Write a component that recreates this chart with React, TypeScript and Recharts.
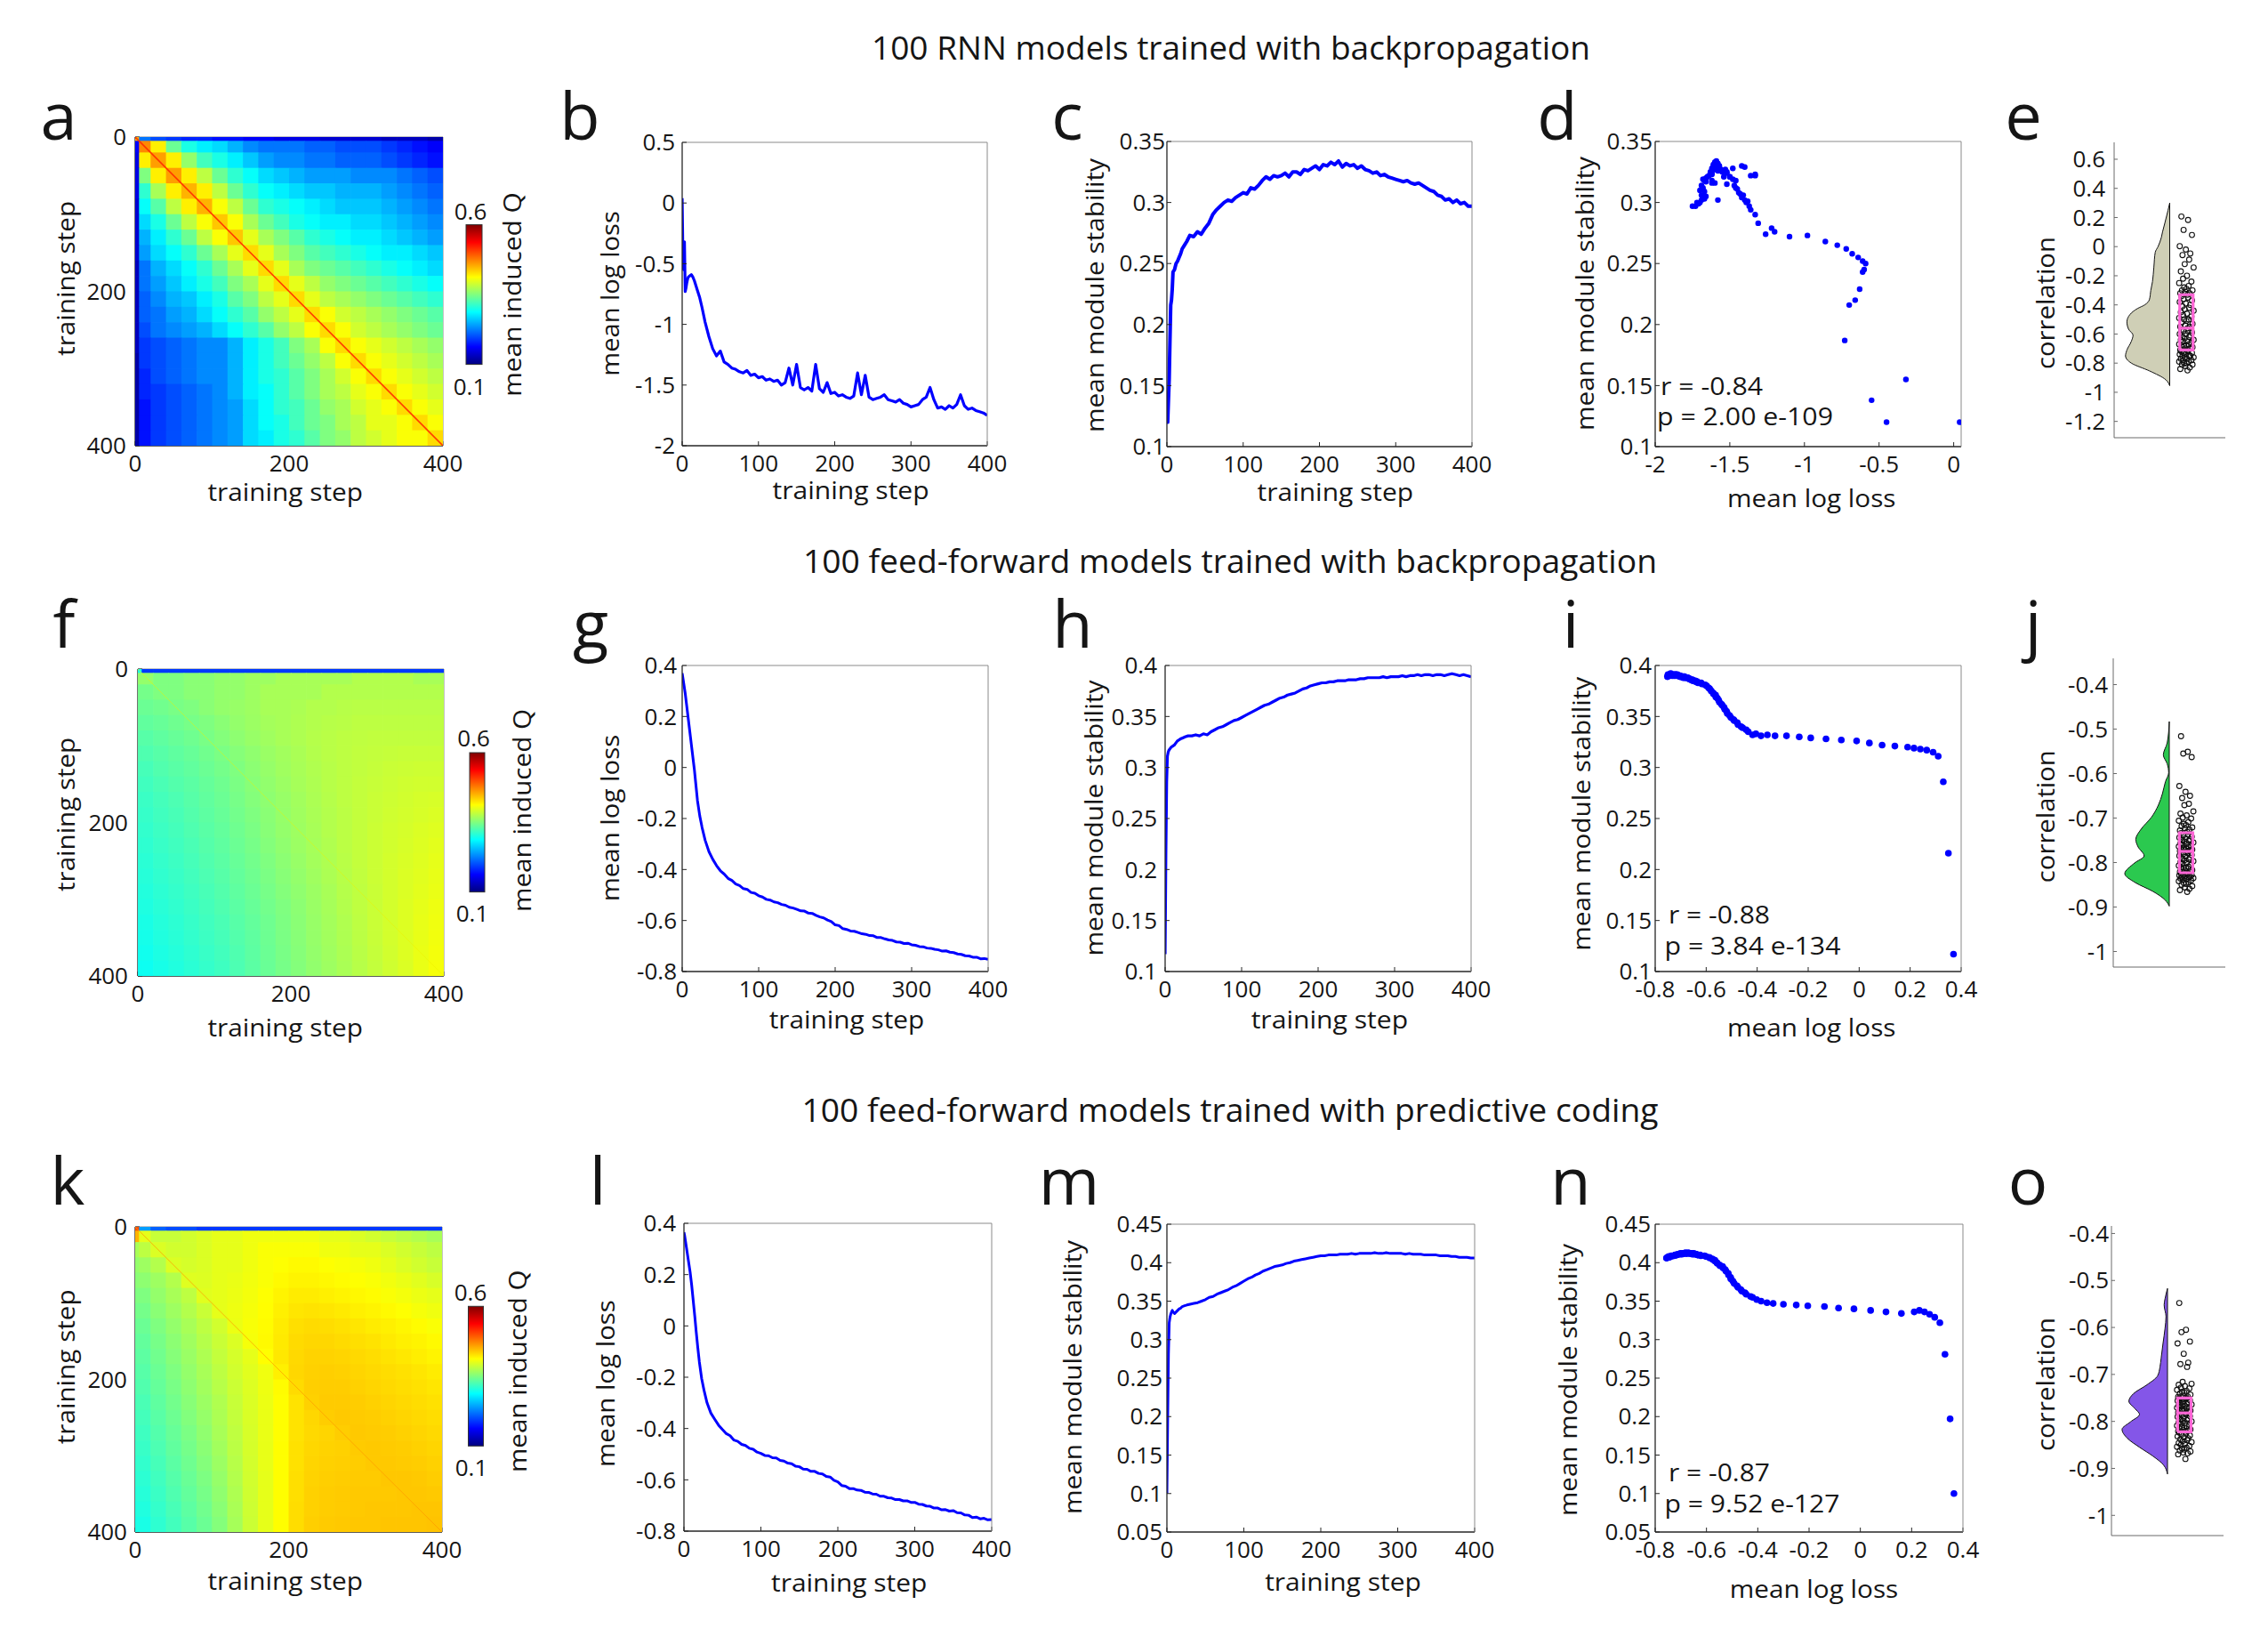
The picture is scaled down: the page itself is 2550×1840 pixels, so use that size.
import React from "react";
import { ComposedChart, Line, Scatter, Area, XAxis, YAxis, ReferenceLine } from "recharts";

const FONT = "'Open Sans', 'Noto Sans', 'DejaVu Sans', sans-serif";
const INK = "#151515";
const AXIS = "#262626";
const BOXLINE = "#8a8a8a";
const BLUE = "#0000ff";
const PINK = "#ff66d6";

// ---------- training curves (read at these steps) ----------
const steps = [0, 1, 2, 3, 4, 5, 6, 7, 8, 10, 12, 14, 16, 18, 20, 23, 26, 30,
  35, 40, 45, 50, 55, 60, 65, 70, 75, 80, 85, 90, 95, 100,
  105, 110, 115, 120, 125, 130, 135, 140, 145, 150, 155, 160, 165, 170, 175, 180, 185, 190, 195, 200,
  205, 210, 215, 220, 225, 230, 235, 240, 245, 250, 255, 260, 265, 270, 275, 280, 285, 290, 295, 300,
  305, 310, 315, 320, 325, 330, 335, 340, 345, 350, 355, 360, 365, 370, 375, 380, 385, 390, 395, 400];

const rnnLoss = [0.04, -0.45, -0.55, -0.32, -0.73, -0.70, -0.66, -0.63, -0.61, -0.60, -0.59, -0.61, -0.64, -0.68, -0.72, -0.78, -0.86, -0.98,
  -1.10, -1.20, -1.26, -1.22, -1.31, -1.33, -1.36, -1.37, -1.39, -1.40, -1.38, -1.42, -1.41, -1.44,
  -1.43, -1.46, -1.45, -1.47, -1.46, -1.50, -1.48, -1.36, -1.50, -1.33, -1.52, -1.54, -1.52, -1.55, -1.33, -1.53, -1.56, -1.48, -1.57, -1.56,
  -1.59, -1.58, -1.60, -1.61, -1.59, -1.40, -1.58, -1.42, -1.60, -1.62, -1.61, -1.60, -1.58, -1.62, -1.63, -1.64, -1.62, -1.65, -1.66, -1.68,
  -1.67, -1.66, -1.62, -1.60, -1.52, -1.62, -1.69, -1.68, -1.70, -1.67, -1.69, -1.66, -1.58, -1.67, -1.70, -1.69, -1.71, -1.72, -1.73, -1.75];

const rnnStability = [0.12, 0.12, 0.138, 0.155, 0.187, 0.216, 0.22, 0.229, 0.243, 0.245, 0.25, 0.252, 0.255, 0.258, 0.262, 0.265, 0.268, 0.273,
  0.272, 0.276, 0.274, 0.279, 0.283, 0.29, 0.294, 0.297, 0.30, 0.302, 0.301, 0.304, 0.306, 0.308,
  0.307, 0.312, 0.311, 0.314, 0.318, 0.321, 0.319, 0.322, 0.321, 0.322, 0.324, 0.321, 0.325, 0.325, 0.323, 0.327, 0.326, 0.328, 0.33, 0.327,
  0.331, 0.33, 0.333, 0.331, 0.334, 0.329, 0.332, 0.33, 0.331, 0.328, 0.33, 0.327, 0.326, 0.324, 0.325, 0.322, 0.323, 0.321, 0.32, 0.319,
  0.318, 0.317, 0.318, 0.316, 0.315, 0.316, 0.314, 0.312, 0.31, 0.309, 0.306, 0.305, 0.302, 0.303, 0.30, 0.302, 0.299, 0.30, 0.297, 0.297];

const ffLoss = [0.37, 0.35, 0.33, 0.31, 0.29, 0.265, 0.24, 0.215, 0.19, 0.14, 0.09, 0.04, -0.01, -0.07, -0.13, -0.19, -0.235, -0.285,
  -0.33, -0.36, -0.385, -0.405, -0.418, -0.435, -0.443, -0.457, -0.463, -0.475, -0.478, -0.49, -0.493, -0.503,
  -0.508, -0.517, -0.52, -0.527, -0.53, -0.537, -0.54, -0.548, -0.551, -0.556, -0.562, -0.563, -0.571, -0.572, -0.58, -0.586, -0.59, -0.598, -0.604, -0.617,
  -0.62, -0.632, -0.635, -0.641, -0.642, -0.647, -0.652, -0.654, -0.659, -0.66, -0.667, -0.667, -0.672, -0.676, -0.678, -0.684, -0.685, -0.69, -0.689, -0.695,
  -0.697, -0.702, -0.703, -0.708, -0.709, -0.713, -0.715, -0.72, -0.719, -0.724, -0.726, -0.731, -0.733, -0.738, -0.739, -0.744, -0.744, -0.75, -0.749, -0.752];

const ffStability = [0.117, 0.216, 0.286, 0.311, 0.315, 0.317, 0.318, 0.319, 0.32, 0.321, 0.322, 0.324, 0.326, 0.327, 0.328, 0.329, 0.33, 0.331,
  0.331, 0.332, 0.331, 0.333, 0.332, 0.335, 0.337, 0.339, 0.34, 0.342, 0.344, 0.346, 0.347, 0.349,
  0.351, 0.353, 0.355, 0.357, 0.359, 0.361, 0.362, 0.364, 0.366, 0.368, 0.369, 0.371, 0.372, 0.373, 0.375, 0.377, 0.378, 0.38, 0.381, 0.382,
  0.383, 0.383, 0.384, 0.384, 0.385, 0.385, 0.385, 0.386, 0.386, 0.386, 0.387, 0.387, 0.388, 0.388, 0.388, 0.388, 0.389, 0.388, 0.389, 0.389,
  0.389, 0.39, 0.389, 0.39, 0.39, 0.391, 0.39, 0.391, 0.391, 0.39, 0.391, 0.391, 0.39, 0.391, 0.392, 0.391, 0.39, 0.391, 0.39, 0.389];

const pcLoss = [0.365, 0.35, 0.33, 0.31, 0.29, 0.27, 0.25, 0.23, 0.21, 0.16, 0.10, 0.04, -0.025, -0.085, -0.14, -0.205, -0.25, -0.30,
  -0.34, -0.364, -0.387, -0.404, -0.42, -0.428, -0.445, -0.45, -0.462, -0.466, -0.477, -0.481, -0.492, -0.497,
  -0.505, -0.506, -0.514, -0.515, -0.524, -0.527, -0.535, -0.537, -0.547, -0.549, -0.558, -0.559, -0.567, -0.567, -0.575, -0.577, -0.587, -0.589, -0.602, -0.608,
  -0.622, -0.625, -0.634, -0.634, -0.64, -0.641, -0.648, -0.649, -0.655, -0.656, -0.664, -0.664, -0.67, -0.671, -0.677, -0.677, -0.682, -0.682, -0.688, -0.688,
  -0.695, -0.696, -0.702, -0.703, -0.71, -0.71, -0.717, -0.716, -0.722, -0.72, -0.728, -0.729, -0.737, -0.738, -0.747, -0.745, -0.752, -0.75, -0.756, -0.755];

const pcStability = [0.10, 0.197, 0.281, 0.322, 0.329, 0.333, 0.336, 0.338, 0.336, 0.334, 0.336, 0.338, 0.34, 0.341, 0.343, 0.344, 0.345, 0.346,
  0.347, 0.348, 0.35, 0.352, 0.355, 0.356, 0.359, 0.361, 0.363, 0.365, 0.368, 0.37, 0.373, 0.376,
  0.379, 0.381, 0.384, 0.386, 0.389, 0.391, 0.393, 0.395, 0.396, 0.397, 0.399, 0.40, 0.402, 0.403, 0.404, 0.405, 0.406, 0.407, 0.408, 0.409,
  0.409, 0.41, 0.41, 0.41, 0.411, 0.411, 0.411, 0.412, 0.411, 0.412, 0.412, 0.412, 0.412, 0.413, 0.412, 0.412, 0.413, 0.412, 0.412, 0.412,
  0.412, 0.411, 0.412, 0.411, 0.411, 0.411, 0.41, 0.41, 0.41, 0.41, 0.409, 0.409, 0.409, 0.408, 0.408, 0.407, 0.407, 0.407, 0.406, 0.406];

// ---------- induced Q maps (rows / cols = training step bins) ----------
const cellEdges = [0, 5, 20, 40, 60, 80, 100, 120, 140, 160, 180, 200, 220, 240, 260, 280, 300, 320, 340, 360, 380, 400];

const rnnQ = [
  [.45, .22, .20, .19, .18, .18, .17, .17, .16, .16, .15, .15, .15, .14, .14, .14, .14, .13, .13, .13, .12],
  [.16, .47, .42, .34, .30, .28, .27, .25, .23, .22, .22, .22, .21, .21, .20, .20, .20, .19, .18, .17, .16],
  [.15, .42, .46, .42, .36, .32, .30, .28, .26, .24, .23, .23, .22, .22, .21, .21, .21, .20, .19, .18, .17],
  [.15, .35, .42, .46, .42, .38, .34, .31, .29, .27, .26, .25, .24, .24, .24, .23, .23, .23, .22, .21, .20],
  [.15, .31, .37, .42, .45, .42, .38, .34, .31, .29, .28, .27, .26, .26, .25, .25, .25, .24, .23, .22, .21],
  [.14, .29, .33, .38, .42, .45, .41, .38, .34, .31, .30, .29, .28, .27, .26, .26, .26, .25, .24, .23, .22],
  [.14, .27, .30, .34, .38, .41, .44, .41, .37, .34, .32, .30, .29, .28, .28, .27, .27, .26, .25, .24, .23],
  [.14, .25, .28, .31, .34, .38, .41, .44, .40, .37, .35, .33, .31, .30, .29, .28, .28, .27, .26, .25, .24],
  [.14, .24, .27, .29, .31, .34, .37, .40, .43, .40, .37, .35, .33, .32, .31, .30, .29, .28, .28, .27, .26],
  [.13, .22, .25, .27, .29, .31, .34, .37, .40, .43, .40, .37, .35, .34, .33, .32, .31, .30, .29, .28, .27],
  [.13, .22, .24, .26, .28, .30, .32, .35, .37, .40, .43, .40, .38, .36, .35, .34, .33, .32, .31, .30, .29],
  [.13, .21, .23, .25, .26, .28, .30, .33, .35, .38, .40, .43, .40, .38, .37, .36, .35, .34, .33, .32, .31],
  [.13, .21, .22, .24, .25, .27, .29, .31, .33, .36, .38, .40, .43, .41, .39, .38, .37, .36, .35, .34, .33],
  [.13, .20, .22, .23, .24, .25, .27, .29, .31, .33, .36, .38, .41, .43, .41, .39, .38, .37, .36, .35, .34],
  [.13, .19, .20, .21, .22, .23, .23, .25, .28, .30, .32, .35, .37, .41, .43, .41, .40, .39, .38, .37, .36],
  [.12, .19, .20, .21, .22, .23, .23, .25, .28, .30, .32, .34, .36, .38, .41, .43, .41, .40, .39, .38, .37],
  [.12, .18, .20, .21, .22, .23, .23, .25, .28, .30, .31, .33, .35, .37, .39, .41, .43, .41, .40, .39, .38],
  [.12, .18, .19, .20, .21, .22, .23, .25, .28, .29, .31, .33, .35, .37, .38, .40, .41, .43, .41, .40, .39],
  [.12, .17, .19, .20, .21, .22, .23, .24, .27, .29, .31, .32, .34, .36, .37, .39, .40, .41, .43, .41, .40],
  [.12, .17, .19, .20, .21, .22, .23, .24, .27, .29, .30, .32, .34, .35, .37, .38, .40, .40, .41, .43, .41],
  [.12, .17, .19, .20, .21, .22, .23, .24, .27, .28, .30, .31, .33, .35, .36, .38, .39, .40, .41, .41, .43],
];

const ffQ = [
  [.30, .19, .19, .19, .19, .19, .19, .19, .19, .19, .19, .19, .19, .19, .19, .19, .19, .19, .19, .19, .19],
  [.36, .36, .35, .35, .355, .355, .36, .36, .365, .365, .37, .37, .37, .37, .37, .375, .375, .375, .375, .37, .37],
  [.345, .345, .35, .35, .355, .355, .36, .36, .365, .37, .37, .37, .37, .375, .375, .375, .375, .375, .375, .375, .375],
  [.34, .34, .343, .347, .35, .355, .36, .362, .365, .37, .37, .372, .375, .375, .377, .378, .378, .378, .378, .378, .378],
  [.335, .335, .338, .342, .346, .35, .355, .36, .364, .368, .37, .373, .375, .377, .378, .38, .38, .38, .38, .38, .38],
  [.33, .33, .334, .338, .342, .347, .352, .357, .362, .366, .37, .373, .376, .378, .38, .381, .382, .382, .382, .382, .382],
  [.326, .326, .33, .334, .338, .343, .348, .353, .358, .363, .367, .371, .375, .378, .38, .382, .383, .384, .385, .385, .385],
  [.322, .322, .327, .331, .335, .34, .345, .35, .356, .361, .366, .37, .374, .377, .38, .382, .384, .386, .387, .388, .388],
  [.319, .319, .324, .328, .332, .337, .342, .348, .354, .359, .364, .369, .373, .377, .38, .383, .385, .387, .389, .39, .39],
  [.316, .316, .321, .325, .33, .335, .34, .346, .352, .357, .362, .367, .372, .376, .38, .383, .386, .388, .39, .392, .393],
  [.314, .314, .319, .323, .328, .333, .338, .344, .35, .355, .361, .366, .371, .375, .379, .383, .386, .389, .391, .393, .395],
  [.312, .312, .317, .321, .326, .331, .336, .342, .348, .354, .36, .365, .37, .375, .379, .383, .387, .39, .392, .395, .397],
  [.31, .31, .315, .319, .324, .329, .334, .34, .346, .352, .358, .364, .369, .374, .379, .383, .387, .39, .393, .396, .399],
  [.308, .308, .313, .317, .322, .327, .332, .338, .344, .35, .356, .362, .368, .373, .378, .383, .387, .391, .394, .397, .40],
  [.306, .306, .311, .315, .32, .325, .33, .336, .342, .348, .354, .36, .366, .372, .377, .382, .387, .391, .395, .398, .401],
  [.304, .304, .309, .313, .318, .323, .328, .334, .34, .346, .352, .358, .364, .37, .376, .381, .386, .391, .395, .399, .402],
  [.302, .302, .307, .311, .316, .321, .326, .332, .338, .344, .35, .356, .363, .369, .375, .381, .386, .391, .396, .40, .404],
  [.30, .30, .305, .309, .314, .319, .324, .33, .336, .342, .349, .355, .362, .368, .374, .38, .386, .391, .396, .401, .405],
  [.298, .298, .303, .307, .312, .317, .322, .328, .334, .341, .348, .354, .361, .367, .373, .379, .385, .391, .396, .401, .406],
  [.296, .296, .301, .305, .31, .315, .32, .326, .333, .34, .347, .353, .36, .366, .372, .378, .384, .39, .396, .402, .407],
  [.294, .294, .299, .303, .308, .313, .318, .325, .332, .339, .346, .352, .359, .365, .371, .377, .383, .389, .395, .402, .408],
];

const pcQ = [
  [.50, .24, .21, .20, .20, .19, .19, .19, .19, .19, .19, .19, .19, .19, .19, .19, .19, .19, .19, .19, .19],
  [.45, .40, .385, .385, .39, .395, .40, .40, .405, .405, .405, .405, .405, .40, .40, .395, .39, .385, .38, .375, .37],
  [.37, .38, .395, .39, .39, .395, .40, .40, .405, .41, .41, .41, .41, .405, .405, .40, .40, .395, .39, .385, .38],
  [.36, .365, .375, .395, .392, .395, .40, .40, .405, .41, .412, .415, .415, .412, .41, .408, .405, .40, .395, .39, .385],
  [.355, .357, .365, .375, .397, .396, .40, .402, .406, .41, .415, .418, .418, .416, .414, .412, .41, .406, .402, .398, .393],
  [.35, .35, .36, .37, .38, .398, .40, .403, .407, .412, .418, .422, .422, .42, .418, .416, .414, .41, .407, .403, .40],
  [.345, .345, .355, .365, .375, .386, .40, .404, .408, .413, .42, .425, .426, .425, .423, .42, .418, .415, .412, .408, .405],
  [.34, .34, .35, .36, .37, .38, .39, .403, .409, .414, .422, .428, .43, .429, .427, .425, .422, .42, .417, .414, .41],
  [.336, .336, .346, .356, .366, .376, .386, .395, .408, .415, .423, .43, .432, .432, .43, .428, .426, .423, .42, .418, .415],
  [.333, .333, .343, .353, .363, .373, .383, .392, .40, .413, .424, .431, .434, .434, .433, .431, .429, .426, .424, .421, .418],
  [.33, .33, .34, .35, .36, .37, .38, .39, .398, .405, .42, .432, .435, .436, .435, .433, .431, .429, .427, .425, .422],
  [.327, .327, .337, .347, .357, .367, .377, .387, .396, .404, .414, .43, .436, .437, .437, .435, .433, .431, .429, .427, .425],
  [.324, .324, .334, .344, .354, .364, .374, .385, .395, .403, .413, .426, .435, .438, .438, .437, .435, .433, .431, .429, .427],
  [.321, .321, .331, .341, .351, .361, .372, .383, .394, .402, .413, .426, .432, .437, .439, .438, .437, .435, .433, .431, .429],
  [.318, .318, .328, .338, .348, .358, .37, .381, .393, .402, .413, .426, .431, .433, .437, .439, .438, .437, .435, .433, .431],
  [.315, .315, .325, .335, .345, .355, .367, .379, .392, .401, .413, .427, .432, .434, .435, .438, .439, .438, .437, .435, .433],
  [.312, .312, .322, .332, .342, .352, .364, .377, .391, .401, .413, .427, .433, .435, .436, .437, .439, .439, .438, .437, .435],
  [.309, .309, .319, .329, .339, .349, .361, .375, .39, .40, .413, .428, .434, .436, .437, .438, .438, .44, .44, .439, .437],
  [.306, .306, .316, .326, .336, .346, .358, .373, .389, .40, .413, .428, .435, .437, .438, .439, .439, .439, .44, .44, .439],
  [.303, .303, .313, .323, .333, .343, .355, .371, .388, .40, .413, .429, .435, .437, .438, .439, .44, .44, .44, .441, .441],
  [.30, .30, .31, .32, .33, .34, .352, .369, .387, .40, .413, .429, .436, .438, .439, .44, .44, .441, .441, .441, .442],
];

// ---------- per-model correlations (100 models each) ----------
const rnnCorr = [0.207, 0.183, 0.115, 0.08, 0.003, -0.02, -0.047, -0.058, -0.089, -0.12, -0.143, -0.17, -0.2, -0.22, -0.24, -0.25, -0.27, -0.28, -0.29, -0.30, -0.30, -0.31, -0.32, -0.32, -0.33,
  -0.34, -0.35, -0.36, -0.37, -0.38, -0.39, -0.40, -0.41, -0.42, -0.43, -0.44, -0.45, -0.46, -0.47, -0.48, -0.49, -0.50, -0.50, -0.51, -0.52, -0.53, -0.54, -0.55, -0.55, -0.56,
  -0.57, -0.58, -0.58, -0.59, -0.60, -0.60, -0.61, -0.62, -0.62, -0.63, -0.64, -0.64, -0.65, -0.65, -0.66, -0.67, -0.67, -0.68, -0.68, -0.69, -0.69, -0.70, -0.70, -0.71, -0.71,
  -0.72, -0.72, -0.73, -0.73, -0.74, -0.74, -0.75, -0.75, -0.75, -0.76, -0.76, -0.77, -0.77, -0.78, -0.78, -0.79, -0.79, -0.80, -0.80, -0.81, -0.81, -0.82, -0.83, -0.84, -0.85];

const ffCorr = [-0.516, -0.551, -0.555, -0.563, -0.628, -0.641, -0.65, -0.655, -0.668, -0.671, -0.685, -0.69, -0.694, -0.699, -0.701, -0.706, -0.709, -0.713, -0.716, -0.718, -0.721, -0.723, -0.726, -0.728, -0.731,
  -0.734, -0.737, -0.739, -0.742, -0.744, -0.746, -0.748, -0.749, -0.751, -0.753, -0.755, -0.757, -0.758, -0.76, -0.762, -0.764, -0.765, -0.767, -0.768, -0.77, -0.771, -0.772, -0.773, -0.774, -0.775,
  -0.777, -0.779, -0.781, -0.783, -0.785, -0.787, -0.789, -0.791, -0.793, -0.795, -0.797, -0.799, -0.801, -0.803, -0.805, -0.807, -0.809, -0.811, -0.813, -0.815, -0.817, -0.818, -0.82, -0.821, -0.823,
  -0.825, -0.826, -0.827, -0.828, -0.829, -0.83, -0.831, -0.832, -0.833, -0.834, -0.835, -0.836, -0.837, -0.838, -0.84, -0.842, -0.844, -0.846, -0.848, -0.85, -0.853, -0.856, -0.859, -0.862, -0.866];

const pcCorr = [-0.548, -0.605, -0.61, -0.63, -0.634, -0.656, -0.675, -0.678, -0.684, -0.716, -0.72, -0.722, -0.725, -0.728, -0.73, -0.733, -0.735, -0.737, -0.739, -0.741, -0.743, -0.745, -0.747, -0.748, -0.75,
  -0.751, -0.752, -0.754, -0.755, -0.756, -0.758, -0.759, -0.76, -0.762, -0.763, -0.764, -0.766, -0.767, -0.768, -0.77, -0.771, -0.772, -0.774, -0.775, -0.776, -0.777, -0.778, -0.779, -0.781, -0.782,
  -0.784, -0.785, -0.787, -0.789, -0.79, -0.792, -0.794, -0.795, -0.797, -0.799, -0.80, -0.802, -0.804, -0.805, -0.807, -0.809, -0.81, -0.812, -0.814, -0.815, -0.817, -0.818, -0.82, -0.821, -0.822,
  -0.824, -0.826, -0.828, -0.83, -0.832, -0.834, -0.836, -0.838, -0.84, -0.842, -0.844, -0.846, -0.848, -0.85, -0.852, -0.854, -0.856, -0.858, -0.86, -0.862, -0.864, -0.866, -0.868, -0.87, -0.88];

// half-violin outlines: correlation level and density width
const rnnViolinAt = [0.30, 0.25, 0.166, 0.10, 0.064, 0.0, -0.038, -0.14, -0.24, -0.30, -0.364, -0.40, -0.425, -0.466, -0.517, -0.567, -0.608, -0.65, -0.71, -0.75, -0.80, -0.853, -0.914, -0.955];
const rnnViolinWidth = [0, 0.03, 0.085, 0.13, 0.15, 0.21, 0.26, 0.285, 0.31, 0.34, 0.366, 0.45, 0.58, 0.715, 0.77, 0.74, 0.66, 0.69, 0.77, 0.795, 0.69, 0.366, 0.07, 0];
const ffViolinAt = [-0.483, -0.531, -0.558, -0.578, -0.598, -0.618, -0.645, -0.671, -0.698, -0.725, -0.748, -0.765, -0.785, -0.801, -0.825, -0.845, -0.865, -0.885, -0.898];
const ffViolinWidth = [0, 0.037, 0.106, 0.037, 0.011, 0.068, 0.122, 0.195, 0.317, 0.503, 0.598, 0.556, 0.449, 0.619, 0.794, 0.608, 0.29, 0.068, 0];
const pcViolinAt = [-0.517, -0.539, -0.552, -0.577, -0.602, -0.634, -0.665, -0.684, -0.703, -0.722, -0.741, -0.757, -0.773, -0.785, -0.801, -0.817, -0.836, -0.855, -0.874, -0.893, -0.912];
const pcViolinWidth = [0, 0.044, 0.06, 0.027, 0.044, 0.08, 0.113, 0.134, 0.177, 0.366, 0.608, 0.689, 0.58, 0.5, 0.661, 0.811, 0.715, 0.5, 0.258, 0.069, 0];

const rnnBox = { q3: -0.33, median: -0.56, q1: -0.71 };
const ffBox = { q3: -0.733, median: -0.775, q1: -0.823 };
const pcBox = { q3: -0.75, median: -0.782, q1: -0.822 };

// ---------- ticks ----------
const stepTicks = [0, 100, 200, 300, 400];
const mapTicks = [0, 50, 100, 150, 200, 250, 300, 350, 400];
const rnnLossTicks = [-2, -1.5, -1, -0.5, 0, 0.5];
const ffLossTicks = [-0.8, -0.6, -0.4, -0.2, 0, 0.2, 0.4];
const rnnStabTicks = [0.1, 0.15, 0.2, 0.25, 0.3, 0.35];
const ffStabTicks = [0.1, 0.15, 0.2, 0.25, 0.3, 0.35, 0.4];
const pcStabTicks = [0.05, 0.1, 0.15, 0.2, 0.25, 0.3, 0.35, 0.4, 0.45];
const rnnLossAxisTicks = [-2, -1.5, -1, -0.5, 0];
const rnnCorrTicks = [0.6, 0.4, 0.2, 0, -0.2, -0.4, -0.6, -0.8, -1, -1.2];
const ffCorrTicks = [-0.4, -0.5, -0.6, -0.7, -0.8, -0.9, -1];

// jitter offsets for the rain dots (layout only)
const jitter = [0.21, 0.33, 0.25, 0.4, 0.18, 0.29, 0.37, 0.23, 0.35, 0.27, 0.43, 0.2, 0.31, 0.24, 0.39, 0.17, 0.34, 0.26, 0.3, 0.22, 0.41, 0.28, 0.36, 0.19, 0.32];

// ---------- helpers ----------
type Box = { x: number; y: number; w: number; h: number };
const PAD = { l: 120, t: 24, r: 24, b: 70 };
const tickText = { fontSize: 26, fill: INK, fontFamily: FONT };

function jet(v: number) {
  const t = Math.max(0, Math.min(1, (v - 0.1) / 0.5));
  const c = (u: number) => Math.round(255 * Math.max(0, Math.min(1, u)));
  const r = c(Math.min(4 * t - 1.5, -4 * t + 4.5));
  const g = c(Math.min(4 * t - 0.5, -4 * t + 3.5));
  const b = c(Math.min(4 * t + 0.5, -4 * t + 2.5));
  return `rgb(${r},${g},${b})`;
}

const place = (box: Box): React.CSSProperties => ({ position: "absolute", left: box.x - PAD.l, top: box.y - PAD.t });
const noMark = () => <g />;

function boxAxes(o: any) {
  return [
    <XAxis key="xb" type="number" dataKey={o.xKey} domain={o.xDomain} ticks={o.xTicks} interval={0} allowDataOverflow
      height={PAD.b} tickSize={-5} tickMargin={16} tick={tickText} tickFormatter={o.fmt}
      axisLine={{ stroke: AXIS, strokeWidth: 1.3 }} tickLine={{ stroke: AXIS }} />,
    <XAxis key="xt" xAxisId="top" orientation="top" type="number" domain={o.xDomain} ticks={o.xTicks} interval={0} allowDataOverflow
      height={PAD.t} tickSize={-5} tick={false} axisLine={{ stroke: BOXLINE }} tickLine={{ stroke: BOXLINE }} />,
    <YAxis key="yl" type="number" dataKey={o.yKey} domain={o.yDomain} ticks={o.yTicks} interval={0} allowDataOverflow
      width={PAD.l} reversed={o.reversed} tickSize={-5} tickMargin={o.gap + 5} tick={tickText} tickFormatter={o.fmt}
      axisLine={{ stroke: AXIS, strokeWidth: 1.3 }} tickLine={{ stroke: AXIS }} />,
    <YAxis key="yr" yAxisId="right" orientation="right" type="number" domain={o.yDomain} ticks={o.yTicks} interval={0} allowDataOverflow
      width={PAD.r} reversed={o.reversed} tickSize={-5} tick={false} axisLine={{ stroke: BOXLINE }} tickLine={{ stroke: BOXLINE }} />,
  ];
}

const mapLabel = (v: number) => (v % 200 === 0 ? String(v) : "");

function HeatPanel({ box, q, gap, diag }: { box: Box; q: number[][]; gap: number; diag: any }) {
  const cells: any[] = [];
  q.forEach((row, r) =>
    row.forEach((v, c) => {
      cells.push({
        col: (cellEdges[c] + cellEdges[c + 1]) / 2,
        row: (cellEdges[r] + cellEdges[r + 1]) / 2,
        dc: cellEdges[c + 1] - cellEdges[c],
        dr: cellEdges[r + 1] - cellEdges[r],
        v,
      });
    })
  );
  // pixels per training step of this panel, used only to size each cell around its scaled centre
  const sx = box.w / 400;
  const sy = box.h / 400;
  const cell = (p: any) => {
    const w = p.payload.dc * sx;
    const h = p.payload.dr * sy;
    return <rect x={p.cx - w / 2} y={p.cy - h / 2} width={w + 0.7} height={h + 0.7} fill={jet(p.payload.v)} />;
  };
  const diagonal = [{ col: 0, row: 0 }, { col: 400, row: 400 }];
  return (
    <div style={place(box)}>
      <ComposedChart width={box.w + PAD.l + PAD.r} height={box.h + PAD.t + PAD.b} margin={{ top: 0, right: 0, bottom: 0, left: 0 }}>
        {boxAxes({ xKey: "col", yKey: "row", xDomain: [0, 400], yDomain: [0, 400], xTicks: mapTicks, yTicks: mapTicks, gap, reversed: true, fmt: mapLabel })}
        <Scatter data={cells} dataKey="row" shape={cell} isAnimationActive={false} />
        <Scatter data={diagonal} dataKey="row" shape={noMark} line={{ stroke: diag.color, strokeWidth: diag.width, strokeOpacity: diag.opacity }} isAnimationActive={false} />
      </ComposedChart>
    </div>
  );
}

function LinePanel({ box, values, yDomain, yTicks, gap, lw }: any) {
  const data = steps.map((s, k) => ({ step: s, v: values[k] }));
  return (
    <div style={place(box)}>
      <ComposedChart width={box.w + PAD.l + PAD.r} height={box.h + PAD.t + PAD.b} data={data} margin={{ top: 0, right: 0, bottom: 0, left: 0 }}>
        {boxAxes({ xKey: "step", xDomain: [0, 400], xTicks: stepTicks, yDomain, yTicks, gap })}
        <Line dataKey="v" type="linear" stroke={BLUE} strokeWidth={lw} strokeLinejoin="round" dot={false} isAnimationActive={false} />
      </ComposedChart>
    </div>
  );
}

const ring = (p: any) => <circle cx={p.cx} cy={p.cy} r={2.9} fill="none" stroke="#111" strokeWidth={1.1} />;

function ScatterPanel({ box, loss, stab, xDomain, xTicks, yDomain, yTicks, gap, dot }: any) {
  const pts = steps.map((s, k) => ({ step: s, loss: loss[k], stab: stab[k] }));
  const blueDot = (p: any) => <circle cx={p.cx} cy={p.cy} r={dot} fill={BLUE} />;
  return (
    <div style={place(box)}>
      <ComposedChart width={box.w + PAD.l + PAD.r} height={box.h + PAD.t + PAD.b} margin={{ top: 0, right: 0, bottom: 0, left: 0 }}>
        {boxAxes({ xKey: "loss", yKey: "stab", xDomain, xTicks, yDomain, yTicks, gap })}
        <Scatter data={pts} dataKey="stab" shape={blueDot} isAnimationActive={false} />
      </ComposedChart>
    </div>
  );
}

function ViolinPanel({ box, at, width, corr, stats, fill, yDomain, yTicks, gap }: any) {
  const outline = at.map((y: number, k: number) => ({ y, x: -width[k] }));
  const rain = corr.map((y: number, k: number) => ({ y, x: jitter[k % jitter.length] }));
  const boxEdge = [
    { x: 0.18, y: stats.q1 }, { x: 0.18, y: stats.q3 }, { x: 0.42, y: stats.q3 }, { x: 0.42, y: stats.q1 }, { x: 0.18, y: stats.q1 },
  ];
  const medianEdge = [{ x: 0.18, y: stats.median }, { x: 0.42, y: stats.median }];
  const grey = "#6a6a6a";
  return (
    <div style={place(box)}>
      <ComposedChart layout="vertical" width={box.w + PAD.l + PAD.r} height={box.h + PAD.t + PAD.b} data={outline}
        margin={{ top: PAD.t, right: PAD.r, bottom: 0, left: 0 }}>
        <XAxis type="number" dataKey="x" domain={[-1, 1]} ticks={[-1, 0, 1]} interval={0} allowDataOverflow height={PAD.b}
          tickSize={-4} tick={false} axisLine={{ stroke: grey }} tickLine={{ stroke: grey }} />
        <YAxis type="number" dataKey="y" domain={yDomain} ticks={yTicks} interval={0} allowDataOverflow width={PAD.l} reversed
          tickSize={-4} tickMargin={gap + 4} tick={tickText} axisLine={{ stroke: grey }} tickLine={{ stroke: grey }} />
        <Area dataKey="x" type="monotone" baseValue={0} fill={fill} fillOpacity={1} stroke="#111" strokeWidth={1} isAnimationActive={false} />
        <ReferenceLine segment={[{ x: 0, y: at[0] }, { x: 0, y: at[at.length - 1] }]} stroke="#111" strokeWidth={1} />
        <Scatter data={rain} shape={ring} isAnimationActive={false} />
        <Scatter data={boxEdge} shape={noMark} line={{ stroke: PINK, strokeWidth: 3.2 }} isAnimationActive={false} />
        <Scatter data={medianEdge} shape={noMark} line={{ stroke: PINK, strokeWidth: 3.2 }} isAnimationActive={false} />
      </ComposedChart>
    </div>
  );
}

// ---------- text layout ----------
const titles = [
  { text: "100 RNN models trained with backpropagation", x: 1384, y: 67, len: 808 },
  { text: "100 feed-forward models trained with backpropagation", x: 1383, y: 644, len: 960 },
  { text: "100 feed-forward models trained with predictive coding", x: 1383, y: 1261, len: 963 },
];
const letters = [
  ["a", 66, 157], ["b", 652, 157], ["c", 1200, 157], ["d", 1751, 157], ["e", 2275, 157],
  ["f", 72, 728], ["g", 664, 728], ["h", 1206, 728], ["i", 1766, 728], ["j", 2286, 728],
  ["k", 76, 1354], ["l", 672, 1354], ["m", 1202, 1354], ["n", 1766, 1354], ["o", 2280, 1354],
] as const;
const xLabels = [
  ["training step", 320.7, 563, 174.5], ["training step", 956.6, 561, 176], ["training step", 1501.4, 563, 175.6], ["mean log loss", 2036.8, 570, 189.4],
  ["training step", 320.7, 1165, 174.5], ["training step", 952, 1156, 174.5], ["training step", 1494.9, 1156, 176.5], ["mean log loss", 2036.8, 1165, 189.4],
  ["training step", 320.7, 1787, 174.5], ["training step", 954.7, 1789, 175.3], ["training step", 1510, 1788, 175.6], ["mean log loss", 2039.5, 1796, 189.4],
] as const;
const yLabels = [
  ["training step", 73.9, 312.9, 174], ["mean induced Q", 575, 331, 229.6], ["mean log loss", 685.7, 330, 185.6],
  ["mean module stability", 1230, 332, 308], ["mean module stability", 1781, 330, 308], ["correlation", 2299.5, 340.6, 149],
  ["training step", 73.9, 915.4, 173], ["mean induced Q", 586, 911, 228], ["mean log loss", 685.7, 919.6, 187.5],
  ["mean module stability", 1229, 919.6, 310], ["mean module stability", 1777, 914.8, 308], ["correlation", 2299.5, 917.7, 149],
  ["training step", 73.9, 1536.3, 174], ["mean induced Q", 581.6, 1541.3, 227.4], ["mean log loss", 680.3, 1555, 187.8],
  ["mean module stability", 1205, 1548, 308], ["mean module stability", 1762, 1551, 306], ["correlation", 2299.5, 1556, 150],
] as const;
const notes = [
  ["r = -0.84", 1867, 444, 115], ["p = 2.00 e-109", 1863, 478, 198],
  ["r = -0.88", 1876, 1038, 114], ["p = 3.84 e-134", 1871.5, 1072.6, 198],
  ["r = -0.87", 1876, 1665, 114], ["p = 9.52 e-127", 1871.5, 1700, 197],
] as const;
const colorbars = [
  { x: 524, y: 252.6, w: 18, h: 157, top: [529, 246.8], bottom: [528, 444] },
  { x: 528, y: 846, w: 17, h: 156.6, top: [532.6, 839], bottom: [531, 1036] },
  { x: 526.5, y: 1468.3, w: 17, h: 157, top: [529, 1462], bottom: [530, 1658.5] },
];

function Overlay() {
  return (
    <svg width={2550} height={1840} style={{ position: "absolute", left: 0, top: 0, pointerEvents: "none" }}
      fontFamily={FONT} fill={INK}>
      <defs>
        <linearGradient id="jetbar" x1="0" y1="1" x2="0" y2="0">
          <stop offset="0" stopColor="#000080" />
          <stop offset="0.125" stopColor="#0000ff" />
          <stop offset="0.375" stopColor="#00ffff" />
          <stop offset="0.625" stopColor="#ffff00" />
          <stop offset="0.875" stopColor="#ff0000" />
          <stop offset="1" stopColor="#800000" />
        </linearGradient>
      </defs>
      {titles.map((t) => (
        <text key={t.text} x={t.x} y={t.y} fontSize={37} textAnchor="middle" textLength={t.len} lengthAdjust="spacingAndGlyphs">{t.text}</text>
      ))}
      {letters.map(([s, x, y]) => (
        <text key={s} x={x} y={y} fontSize={74} textAnchor="middle">{s}</text>
      ))}
      {xLabels.map(([s, x, y, len], k) => (
        <text key={`xl${k}`} x={x} y={y} fontSize={27} textAnchor="middle" textLength={len} lengthAdjust="spacingAndGlyphs">{s}</text>
      ))}
      {yLabels.map(([s, x, y, len], k) => (
        <text key={`yl${k}`} transform={`translate(${x},${y}) rotate(-90)`} fontSize={27} textAnchor="middle" dominantBaseline="central"
          textLength={len} lengthAdjust="spacingAndGlyphs">{s}</text>
      ))}
      {notes.map(([s, x, y, len], k) => (
        <text key={`n${k}`} x={x} y={y} fontSize={27} textLength={len} lengthAdjust="spacingAndGlyphs">{s}</text>
      ))}
      {colorbars.map((c, k) => (
        <g key={`cb${k}`}>
          <rect x={c.x} y={c.y} width={c.w} height={c.h} fill="url(#jetbar)" stroke="#333" strokeWidth={1} />
          <text x={c.top[0]} y={c.top[1]} fontSize={26} textAnchor="middle">0.6</text>
          <text x={c.bottom[0]} y={c.bottom[1]} fontSize={26} textAnchor="middle">0.1</text>
        </g>
      ))}
    </svg>
  );
}

export default function App() {
  return (
    <div style={{ position: "absolute", left: 0, top: 0, width: 2550, height: 1840, background: "#fff", overflow: "hidden", fontFamily: FONT }}>
      {/* row 1: RNN */}
      <HeatPanel box={{ x: 152, y: 154, w: 346, h: 347 }} q={rnnQ} gap={10} diag={{ color: "#ff2a00", width: 1.6, opacity: 0.9 }} />
      <LinePanel box={{ x: 767, y: 160, w: 343, h: 341 }} values={rnnLoss} yDomain={[-2, 0.5]} yTicks={rnnLossTicks} gap={8} lw={3.2} />
      <LinePanel box={{ x: 1312, y: 159, w: 343, h: 343 }} values={rnnStability} yDomain={[0.1, 0.35]} yTicks={rnnStabTicks} gap={2} lw={4} />
      <ScatterPanel box={{ x: 1861, y: 159, w: 344, h: 343 }} loss={rnnLoss} stab={rnnStability} xDomain={[-2, 0.05]} xTicks={rnnLossAxisTicks}
        yDomain={[0.1, 0.35]} yTicks={rnnStabTicks} gap={3} dot={3.2} />
      <ViolinPanel box={{ x: 2377, y: 160, w: 125, h: 332 }} at={rnnViolinAt} width={rnnViolinWidth} corr={rnnCorr} stats={rnnBox}
        fill="#cfcfb6" yDomain={[-1.312, 0.716]} yTicks={rnnCorrTicks} gap={10} />

      {/* row 2: feed-forward, backprop */}
      <HeatPanel box={{ x: 155, y: 752, w: 344, h: 345 }} q={ffQ} gap={11} diag={{ color: "#f0f000", width: 1, opacity: 0.5 }} />
      <LinePanel box={{ x: 767, y: 748, w: 344, h: 344 }} values={ffLoss} yDomain={[-0.8, 0.4]} yTicks={ffLossTicks} gap={6} lw={3} />
      <LinePanel box={{ x: 1310, y: 748, w: 344, h: 344 }} values={ffStability} yDomain={[0.1, 0.4]} yTicks={ffStabTicks} gap={9} lw={3.2} />
      <ScatterPanel box={{ x: 1861, y: 748, w: 344, h: 344 }} loss={ffLoss} stab={ffStability} xDomain={[-0.8, 0.4]} xTicks={ffLossTicks}
        yDomain={[0.1, 0.4]} yTicks={ffStabTicks} gap={4} dot={3.8} />
      <ViolinPanel box={{ x: 2376, y: 740, w: 126, h: 347 }} at={ffViolinAt} width={ffViolinWidth} corr={ffCorr} stats={ffBox}
        fill="#2bc94f" yDomain={[-1.035, -0.341]} yTicks={ffCorrTicks} gap={6} />

      {/* row 3: feed-forward, predictive coding */}
      <HeatPanel box={{ x: 152, y: 1379, w: 345, h: 343 }} q={pcQ} gap={9} diag={{ color: "#ff9a00", width: 1, opacity: 0.7 }} />
      <LinePanel box={{ x: 769, y: 1375, w: 346, h: 346 }} values={pcLoss} yDomain={[-0.8, 0.4]} yTicks={ffLossTicks} gap={9} lw={3} />
      <LinePanel box={{ x: 1312, y: 1376, w: 346, h: 346 }} values={pcStability} yDomain={[0.05, 0.45]} yTicks={pcStabTicks} gap={5} lw={3} />
      <ScatterPanel box={{ x: 1861, y: 1376, w: 346, h: 346 }} loss={pcLoss} stab={pcStability} xDomain={[-0.8, 0.4]} xTicks={ffLossTicks}
        yDomain={[0.05, 0.45]} yTicks={pcStabTicks} gap={5} dot={3.8} />
      <ViolinPanel box={{ x: 2374, y: 1378, w: 126, h: 348 }} at={pcViolinAt} width={pcViolinWidth} corr={pcCorr} stats={pcBox}
        fill="#8456e8" yDomain={[-1.043, -0.384]} yTicks={ffCorrTicks} gap={3} />

      <Overlay />
    </div>
  );
}
